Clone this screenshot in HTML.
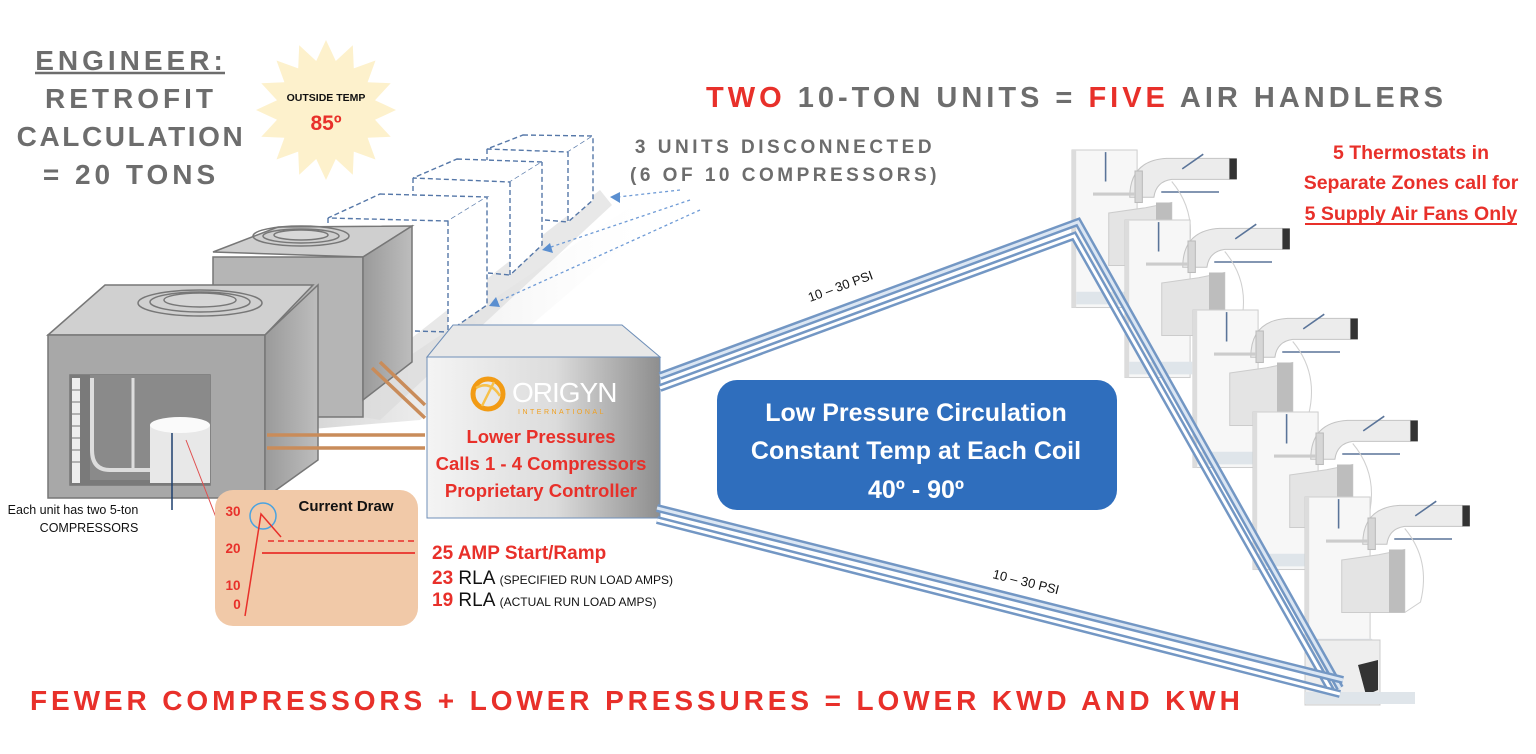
<!DOCTYPE html>
<html><head><meta charset="utf-8"><style>
html,body{margin:0;padding:0;background:#fff;}
svg{display:block;}
text{font-family:"Liberation Sans","DejaVu Sans",sans-serif;}
</style></head><body>
<svg width="1536" height="754" viewBox="0 0 1536 754" xmlns="http://www.w3.org/2000/svg">
<defs>
<linearGradient id="ctrl" x1="0" x2="1" y1="0" y2="0">
<stop offset="0" stop-color="#f4f4f4"/><stop offset="0.55" stop-color="#dcdcdc"/><stop offset="1" stop-color="#8e8e8e"/></linearGradient>
<linearGradient id="sideg" x1="0" x2="1"><stop offset="0" stop-color="#9a9a9a"/><stop offset="1" stop-color="#bdbdbd"/></linearGradient>
<linearGradient id="shadow" x1="0" x2="1" y1="0" y2="0"><stop offset="0" stop-color="#c8c8c8"/><stop offset="1" stop-color="#ffffff" stop-opacity="0"/></linearGradient>
<g id="ah">
  <rect x="0" y="0" width="62" height="150" fill="#f7f7f7" stroke="#cfcfcf"/>
  <rect x="0" y="0" width="4" height="150" fill="#dcdcdc"/>
  <line x1="32" y1="2" x2="32" y2="30" stroke="#5a7499" stroke-width="1.5"/>
  <path d="M55 45 Q55 10 90 8 L150 8 L150 28 L95 28 Q80 30 78 45 Z" fill="#ececec" stroke="#c4c4c4"/>
  <rect x="150" y="8" width="7" height="20" fill="#333"/>
  <line x1="105" y1="18" x2="125" y2="4" stroke="#5a7499" stroke-width="1.5"/>
  <rect x="60" y="20" width="7" height="30" fill="#d6d6d6" stroke="#bbb"/>
  <line x1="85" y1="40" x2="140" y2="40" stroke="#5a7499" stroke-width="1.5"/>
  <line x1="20" y1="42" x2="60" y2="42" stroke="#ccc" stroke-width="3"/>
  <path d="M35 60 L70 55 L95 50 L95 110 L35 110 Z" fill="#e4e4e4" stroke="#ccc"/>
  <path d="M80 50 L95 50 L95 110 L80 110 Z" fill="#bdbdbd"/>
  <path d="M95 30 Q120 60 110 100 L95 110" fill="none" stroke="#d0d0d0"/>
  <rect x="4" y="135" width="60" height="12" fill="#dfe5ea"/>
</g>
</defs>

<g font-weight="bold" fill="#6d6d6d" font-size="28" text-anchor="middle">
<text x="131" y="70" letter-spacing="4">ENGINEER:</text>
<text x="131" y="108" letter-spacing="4">RETROFIT</text>
<text x="131" y="146" letter-spacing="2.6">CALCULATION</text>
<text x="131" y="184" letter-spacing="4">= 20 TONS</text>
</g>
<line x1="35" y1="73" x2="225" y2="73" stroke="#6d6d6d" stroke-width="2.5"/>

<polygon id="star" fill="#fdf1cc" points=""/>
<text x="326" y="101" text-anchor="middle" font-size="10.5" font-weight="bold" fill="#111">OUTSIDE TEMP</text>
<text x="326" y="130" text-anchor="middle" font-size="21" font-weight="bold" fill="#e8302a">85º</text>

<text x="706" y="107" font-size="29" font-weight="bold" letter-spacing="4" fill="#6d6d6d"><tspan fill="#e8302a">TWO</tspan> 10-TON UNITS = <tspan fill="#e8302a">FIVE</tspan> AIR HANDLERS</text>

<g font-size="19" font-weight="bold" fill="#6d6d6d" letter-spacing="3.5" text-anchor="middle">
<text x="785" y="153">3 UNITS DISCONNECTED</text>
<text x="785" y="181">(6 OF 10 COMPRESSORS)</text>
</g>

<polygon points="300,430 640,200 660,215 420,420" fill="url(#shadow)" opacity="0.8"/>
<polygon points="320,410 600,190 612,205 380,420" fill="#d8d8d8" opacity="0.6"/>

<g fill="#fff" stroke="#5577a8" stroke-width="1.4" stroke-dasharray="5,3">
<path d="M523,135 L593,136 L568,152 L487,149 Z"/><path d="M487,149 L487,168"/>
<path d="M568,152 L568,222 L593,200 L593,136"/><path d="M545,220 L568,222"/>
<path d="M457,159 L542,162 L510,182 L413,178 Z"/><path d="M413,178 L413,196"/>
<path d="M510,182 L510,275 L542,245 L542,162"/><path d="M488,273 L510,275"/>
<path d="M380,194 L487,197 L448,221 L328,218 Z"/><path d="M328,218 L328,228"/>
<path d="M448,221 L448,332 L487,305 L487,197"/><path d="M415,331 L448,332"/>
</g>
<g stroke="#6f9bd6" stroke-width="1.3" stroke-dasharray="3,3" fill="none">
<line x1="680" y1="190" x2="618" y2="197"/>
<line x1="690" y1="200" x2="548" y2="248"/>
<line x1="700" y1="210" x2="495" y2="303"/>
</g>
<g fill="#5b8fd0">
<polygon points="610,197 620,192 620,203"/>
<polygon points="542,250 550,243 553,253"/>
<polygon points="489,306 496,297 500,307"/>
</g>

<polygon points="213,252 278,227 412,226 363,257" fill="#cfcfcf" stroke="#777" stroke-width="1.5"/>
<ellipse cx="301" cy="236" rx="48" ry="10" fill="none" stroke="#777" stroke-width="1.5"/>
<ellipse cx="301" cy="236" rx="38" ry="7" fill="none" stroke="#777" stroke-width="1.5"/>
<ellipse cx="301" cy="235" rx="27" ry="5" fill="#d8d8d8" stroke="#777" stroke-width="1.5"/>
<rect x="213" y="257" width="150" height="160" fill="#b5b5b5" stroke="#777" stroke-width="1.5"/>
<polygon points="363,257 412,226 412,362 363,400" fill="url(#sideg)" stroke="#777" stroke-width="1.5"/>

<polygon points="48,335 105,285 313,285 265,335" fill="#d0d0d0" stroke="#777" stroke-width="1.5"/>
<ellipse cx="200" cy="303" rx="62" ry="13" fill="none" stroke="#777" stroke-width="1.5"/>
<ellipse cx="200" cy="302" rx="50" ry="10" fill="none" stroke="#777" stroke-width="1.5"/>
<ellipse cx="200" cy="300" rx="36" ry="7" fill="#d6d6d6" stroke="#777" stroke-width="1.5"/>
<rect x="64" y="350" width="110" height="135" fill="#777"/>
<path d="M48,335 H265 V498 H48 Z M70,375 V485 H210 V375 Z" fill="#a8a8a8" fill-rule="evenodd" stroke="#777" stroke-width="1.5"/>
<rect x="70" y="375" width="140" height="110" fill="#7a7a7a"/>
<polygon points="90,375 210,375 210,480 90,480" fill="#8a8a8a"/>
<rect x="72" y="378" width="8" height="105" fill="#eee"/>
<g stroke="#777" stroke-width="1"><line x1="72" y1="390" x2="80" y2="390"/><line x1="72" y1="402" x2="80" y2="402"/><line x1="72" y1="414" x2="80" y2="414"/><line x1="72" y1="426" x2="80" y2="426"/><line x1="72" y1="438" x2="80" y2="438"/><line x1="72" y1="450" x2="80" y2="450"/><line x1="72" y1="462" x2="80" y2="462"/></g>
<path d="M92,378 V450 Q92,470 110,470 H210" fill="none" stroke="#ddd" stroke-width="4"/>
<path d="M133,378 V472" fill="none" stroke="#ddd" stroke-width="3"/>
<rect x="150" y="425" width="60" height="58" fill="#e8e8e8"/>
<ellipse cx="180" cy="425" rx="30" ry="8" fill="#fafafa"/>
<polygon points="265,335 318,285 318,460 265,498" fill="url(#sideg)" stroke="#777" stroke-width="1.5"/>
<line x1="172" y1="510" x2="172" y2="433" stroke="#1d3f6e" stroke-width="1.5"/>
<line x1="186" y1="440" x2="217" y2="520" stroke="#e05050" stroke-width="1"/>
<text x="73" y="514" text-anchor="middle" font-size="12.5" fill="#111">Each unit has two 5-ton</text>
<text x="89" y="532" text-anchor="middle" font-size="12.5" fill="#111">COMPRESSORS</text>

<g stroke="#c98c5a" stroke-width="3.5">
<line x1="267" y1="435" x2="425" y2="435"/><line x1="267" y1="448" x2="425" y2="448"/>
<line x1="372" y1="368" x2="425" y2="418"/><line x1="380" y1="362" x2="425" y2="405"/>
</g>

<polygon points="427,357 453,325 622,325 660,357" fill="#e8e8e8" stroke="#6f8fb8" stroke-width="1"/>
<rect x="427" y="357" width="233" height="161" fill="url(#ctrl)" stroke="#6f8fb8" stroke-width="1"/>
<circle cx="488" cy="394" r="15" fill="none" stroke="#f29b14" stroke-width="5"/>
<path d="M476,388 Q490,380 500,396 M482,406 L494,382" stroke="#f7c14a" stroke-width="2.5" fill="none"/>
<text x="512" y="402" font-size="28" fill="#fff" letter-spacing="-1">ORIGYN</text>
<text x="518" y="414" font-size="7" fill="#f0a020" letter-spacing="2.5">INTERNATIONAL</text>
<g fill="#e8302a" font-weight="bold" text-anchor="middle" font-size="18.5">
<text x="541" y="443">Lower Pressures</text>
<text x="541" y="470">Calls 1 - 4 Compressors</text>
<text x="541" y="497">Proprietary Controller</text>
</g>

<rect x="215" y="490" width="203" height="136" rx="18" fill="#f1c9a8"/>
<text x="346" y="511" text-anchor="middle" font-size="15" font-weight="bold" fill="#111">Current Draw</text>
<g fill="#e8302a" font-size="13.5" font-weight="bold" text-anchor="middle">
<text x="233" y="516">30</text><text x="233" y="553">20</text><text x="233" y="590">10</text><text x="237" y="609">0</text>
</g>
<circle cx="263" cy="516" r="13" fill="none" stroke="#4aa3e0" stroke-width="1.5"/>
<polyline points="245,616 261,514 281,537" fill="none" stroke="#e8302a" stroke-width="1.5"/>
<line x1="268" y1="541" x2="418" y2="541" stroke="#e8302a" stroke-width="1.5" stroke-dasharray="6,4"/>
<line x1="262" y1="553" x2="415" y2="553" stroke="#e8302a" stroke-width="1.8"/>

<g font-weight="bold">
<text x="432" y="559" font-size="19" fill="#e8302a">25 AMP Start/Ramp</text>
<text x="432" y="584" font-size="19"><tspan fill="#e8302a">23</tspan><tspan fill="#111" font-weight="normal"> RLA </tspan><tspan fill="#111" font-weight="normal" font-size="12">(SPECIFIED RUN LOAD AMPS)</tspan></text>
<text x="432" y="606" font-size="19"><tspan fill="#e8302a">19</tspan><tspan fill="#111" font-weight="normal"> RLA </tspan><tspan fill="#111" font-weight="normal" font-size="12">(ACTUAL RUN LOAD AMPS)</tspan></text>
</g>

<use href="#ah" transform="translate(1072,150) scale(1.05)"/>
<use href="#ah" transform="translate(1125,220) scale(1.05)"/>
<use href="#ah" transform="translate(1193,310) scale(1.05)"/>
<use href="#ah" transform="translate(1253,412) scale(1.05)"/>
<use href="#ah" transform="translate(1305,497) scale(1.05)"/>
<rect x="1305" y="640" width="75" height="65" fill="#eee" stroke="#ccc"/>
<polygon points="1358,665 1378,660 1378,690 1366,695" fill="#333"/>
<rect x="1305" y="692" width="110" height="12" fill="#dfe5ea"/>

<g fill="none" stroke-linejoin="miter">
<polyline points="660,376 1078,222 1340,688" stroke="#7397c4" stroke-width="8"/>
<polyline points="660,376 1078,222 1340,688" stroke="#dbe6f3" stroke-width="3"/>
<polyline points="660,388 1074,236 1332,692" stroke="#7397c4" stroke-width="8"/>
<polyline points="660,388 1074,236 1332,692" stroke="#fff" stroke-width="3"/>
<polyline points="657,508 1343,680" stroke="#7397c4" stroke-width="8"/>
<polyline points="657,508 1343,680" stroke="#dbe6f3" stroke-width="3"/>
<polyline points="657,520 1340,694" stroke="#7397c4" stroke-width="8"/>
<polyline points="657,520 1340,694" stroke="#fff" stroke-width="3"/>
</g>
<text x="0" y="0" font-size="13" fill="#111" transform="translate(810,302) rotate(-20)">10 – 30 PSI</text>
<text x="0" y="0" font-size="13" fill="#111" transform="translate(992,578) rotate(14)">10 – 30 PSI</text>

<rect x="717" y="380" width="400" height="130" rx="20" fill="#2f6ebd"/>
<g fill="#fff" font-weight="bold" font-size="25" text-anchor="middle">
<text x="916" y="421">Low Pressure Circulation</text>
<text x="916" y="459">Constant Temp at Each Coil</text>
<text x="916" y="498">40º - 90º</text>
</g>

<g fill="#e8302a" font-weight="bold" font-size="19.5" text-anchor="middle">
<text x="1411" y="159">5 Thermostats in</text>
<text x="1411" y="189">Separate Zones call for</text>
<text x="1411" y="220">5 Supply Air Fans Only</text>
</g>
<line x1="1305" y1="224" x2="1517" y2="224" stroke="#e8302a" stroke-width="2"/>

<text x="30" y="710" font-size="28" font-weight="bold" fill="#e8302a" letter-spacing="3.9">FEWER COMPRESSORS + LOWER PRESSURES = LOWER KWD AND KWH</text>
</svg>
<script>
(function(){var p=[],cx=326,cy=110,n=16;for(var i=0;i<n*2;i++){var r=i%2?50:70,a=Math.PI*i/n-Math.PI/2;p.push((cx+r*Math.cos(a)).toFixed(1)+","+(cy+r*Math.sin(a)).toFixed(1));}document.getElementById("star").setAttribute("points",p.join(" "));})();
</script>
</body></html>
